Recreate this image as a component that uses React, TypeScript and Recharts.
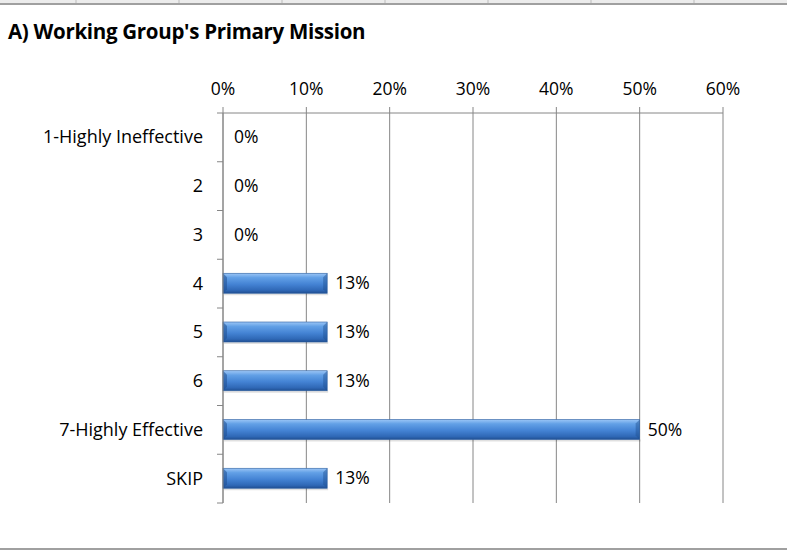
import React from 'react';
import { BarChart, Bar, XAxis, YAxis, CartesianGrid, LabelList } from 'recharts';

const categories = [
  '1-Highly Ineffective',
  '2',
  '3',
  '4',
  '5',
  '6',
  '7-Highly Effective',
  'SKIP',
];
const shares = [0, 0, 0, 0.125, 0.125, 0.125, 0.5, 0.125];
const xTicks = [0, 0.1, 0.2, 0.3, 0.4, 0.5, 0.6];

const data = categories.map((name, i) => ({ name, value: shares[i] }));

const FONT = '"Open Sans", sans-serif';
const GRID = '#868686';

const pct = (v: number) => `${Math.round(v * 100)}%`;

// category labels with the tick marks placed on the band edges (Excel style)
function CategoryTick(props: any) {
  const { x, y, payload, height, index } = props;
  const band = height / categories.length;
  const axisX = x + 8;
  return (
    <g>
      <line x1={axisX - 6} x2={axisX} y1={y - band / 2} y2={y - band / 2} stroke={GRID} />
      {index === categories.length - 1 && (
        <line x1={axisX - 6} x2={axisX} y1={y + band / 2} y2={y + band / 2} stroke={GRID} />
      )}
      <text x={axisX - 20} y={y} dy={6} textAnchor="end" fill="#000" fontSize={18} fontFamily={FONT}>
        {payload.value}
      </text>
    </g>
  );
}

// bevelled bar like the office 3D preset; zero values draw nothing but keep their label
function BevelBar(props: any) {
  const { x, y, width, height, value } = props;
  if (!value) return <g />;
  const b = 4;
  return (
    <g>
      <rect x={x + 1} y={y + height} width={width} height={2} fill="#000" opacity={0.12} />
      <rect x={x} y={y} width={width} height={height} fill="url(#barFill)" />
      <polygon
        points={`${x},${y} ${x + b},${y + b} ${x + b},${y + height - b} ${x},${y + height}`}
        fill="#1f4f90"
        opacity={0.55}
      />
      <polygon
        points={`${x + width},${y} ${x + width - b},${y + b} ${x + width - b},${y + height - b} ${x + width},${y + height}`}
        fill="#1f4f90"
        opacity={0.45}
      />
      <rect x={x} y={y} width={width} height={height} fill="none" stroke="#2b5d9e" strokeWidth={0.6} />
    </g>
  );
}

const cellEdges = [75, 178, 281, 384, 487, 590, 693];

export default function App() {
  return (
    <div style={{ position: 'absolute', left: 0, top: 0, width: 787, height: 550, background: '#fff', overflow: 'hidden' }}>
      {/* spreadsheet edge above the chart */}
      <div style={{ position: 'absolute', left: 0, top: 0, width: 787, height: 3, background: '#ececec' }} />
      {cellEdges.map(x => (
        <div key={x} style={{ position: 'absolute', left: x, top: 0, width: 2, height: 3, background: '#d4d4d4' }} />
      ))}
      <div style={{ position: 'absolute', left: 0, top: 3, width: 787, height: 2, background: '#a0a0a0' }} />
      <div style={{ position: 'absolute', left: 0, top: 548, width: 787, height: 2, background: '#a0a0a0' }} />

      <div
        style={{
          position: 'absolute', left: 8, top: 17, fontFamily: FONT, fontWeight: 700,
          fontSize: 20.5, letterSpacing: -0.3, color: '#000', whiteSpace: 'nowrap',
        }}
      >
        A) Working Group's Primary Mission
      </div>

      <BarChart
        width={787}
        height={550}
        data={data}
        layout="vertical"
        margin={{ top: 73, right: 64, bottom: 47, left: 0 }}
        barCategoryGap={0}
      >
        <defs>
          <linearGradient id="barFill" x1="0" y1="0" x2="0" y2="1">
            <stop offset="0%" stopColor="#9cc6f6" />
            <stop offset="22%" stopColor="#62a0e6" />
            <stop offset="55%" stopColor="#4483d4" />
            <stop offset="85%" stopColor="#2f68b6" />
            <stop offset="100%" stopColor="#204f92" />
          </linearGradient>
        </defs>
        <CartesianGrid horizontal={false} stroke={GRID} />
        <XAxis
          type="number"
          orientation="top"
          domain={[0, 0.6]}
          ticks={xTicks}
          tickFormatter={pct}
          height={40}
          stroke={GRID}
          tickSize={6}
          tickMargin={12}
          tick={{ fill: '#000', fontSize: 17.5, fontFamily: FONT }}
        />
        <YAxis
          type="category"
          dataKey="name"
          width={223}
          stroke={GRID}
          tickLine={false}
          tick={<CategoryTick />}
          interval={0}
        />
        <Bar
          dataKey="value"
          fill="url(#barFill)"
          barSize={20}
          minPointSize={3}
          shape={<BevelBar />}
          isAnimationActive={false}
        >
          <LabelList
            dataKey="value"
            position="right"
            offset={8}
            formatter={(v: any) => pct(Number(v))}
            style={{ fill: '#000', fontSize: 17.5, fontFamily: FONT }}
          />
        </Bar>
      </BarChart>
    </div>
  );
}
